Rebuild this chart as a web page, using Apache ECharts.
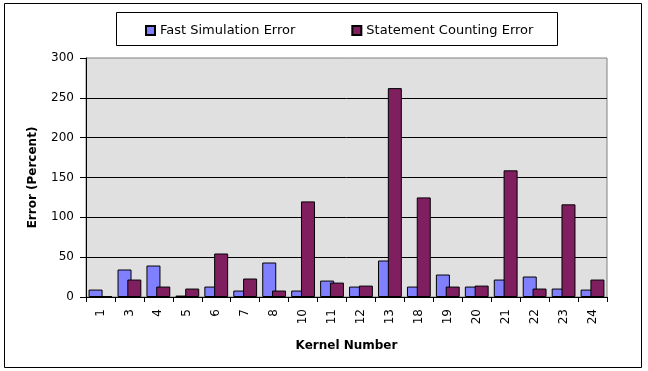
<!DOCTYPE html>
<html>
<head>
<meta charset="utf-8">
<script src="https://cdn.jsdelivr.net/npm/echarts@6/dist/echarts.min.js"></script>
<style>
html,body{margin:0;padding:0;background:#fff;}
#chart{width:648px;height:371px;}
</style>
</head>
<body>
<div id="chart"></div>
<script>
const categories = ['1','3','4','5','6','7','8','10','11','12','13','18','19','20','21','22','23','24'];
const fastSimError = [9.3,34.5,39.5,1.8,13.1,8.1,43.3,8.1,20.6,13.1,45.8,13.1,28.2,13.1,21.9,25.7,10.6,9.3];
const stmtCountError = [1,21.9,13.1,10.6,54.6,23.2,8.1,120,18.1,14.3,262.2,125,13.1,14.3,159,10.6,116.3,21.9];
const seriesNames = ['Fast Simulation Error','Statement Counting Error'];
const yTicks = {min:0, max:300, interval:50};

const chart = echarts.init(document.getElementById('chart'), null, {renderer:'canvas'});
const font = 'DejaVu Sans';
chart.setOption({
  animation:false,
  backgroundColor:'#ffffff',
  graphic:[
    {type:'rect', shape:{x:4.5,y:3.5,width:637,height:364}, style:{fill:'none',stroke:'#000',lineWidth:1}, z:-1},
    {type:'rect', shape:{x:116.5,y:12.5,width:441,height:33}, style:{fill:'#fff',stroke:'#000',lineWidth:1}, z:-1}
  ],
  legend:{
    left:145, top:23, padding:0, itemWidth:9, itemHeight:9, itemGap:56,
    icon:'rect',
    textStyle:{fontFamily:font,fontSize:13,color:'#000',lineHeight:15},
    data:seriesNames
  },
  grid:{left:86,right:41,top:58,bottom:74,show:true,backgroundColor:'#e0e0e0',borderColor:'#808080',borderWidth:1},
  xAxis:{
    type:'category', data:categories,
    name:'Kernel Number', nameLocation:'middle', nameGap:43,
    nameTextStyle:{fontFamily:font,fontSize:12,fontWeight:'bold',color:'#000'},
    axisLine:{lineStyle:{color:'#000',width:1}},
    axisTick:{show:true,length:5,lineStyle:{color:'#000'},alignWithLabel:false},
    axisLabel:{rotate:90,margin:12,fontFamily:font,fontSize:12,color:'#000',interval:0},
    splitLine:{show:false}
  },
  yAxis:{
    type:'value', min:yTicks.min, max:yTicks.max, interval:yTicks.interval,
    name:'Error (Percent)', nameLocation:'middle', nameGap:47, nameRotate:90,
    nameTextStyle:{fontFamily:font,fontSize:12,fontWeight:'bold',color:'#000'},
    axisLine:{show:true,lineStyle:{color:'#000',width:1}},
    axisTick:{show:true,length:6,lineStyle:{color:'#000'}},
    axisLabel:{margin:12,fontFamily:font,fontSize:12,color:'#000'},
    splitLine:{show:true,showMaxLine:false,lineStyle:{color:'#000',width:1}}
  },
  series:[
    {name:seriesNames[0],type:'bar',data:fastSimError,barWidth:14,barGap:'-30%',
     itemStyle:{color:'#8080ff',borderColor:'#000',borderWidth:1}},
    {name:seriesNames[1],type:'bar',data:stmtCountError,barWidth:14,barGap:'-30%',
     itemStyle:{color:'#801f5f',borderColor:'#000',borderWidth:1}}
  ]
});
</script>
</body>
</html>
